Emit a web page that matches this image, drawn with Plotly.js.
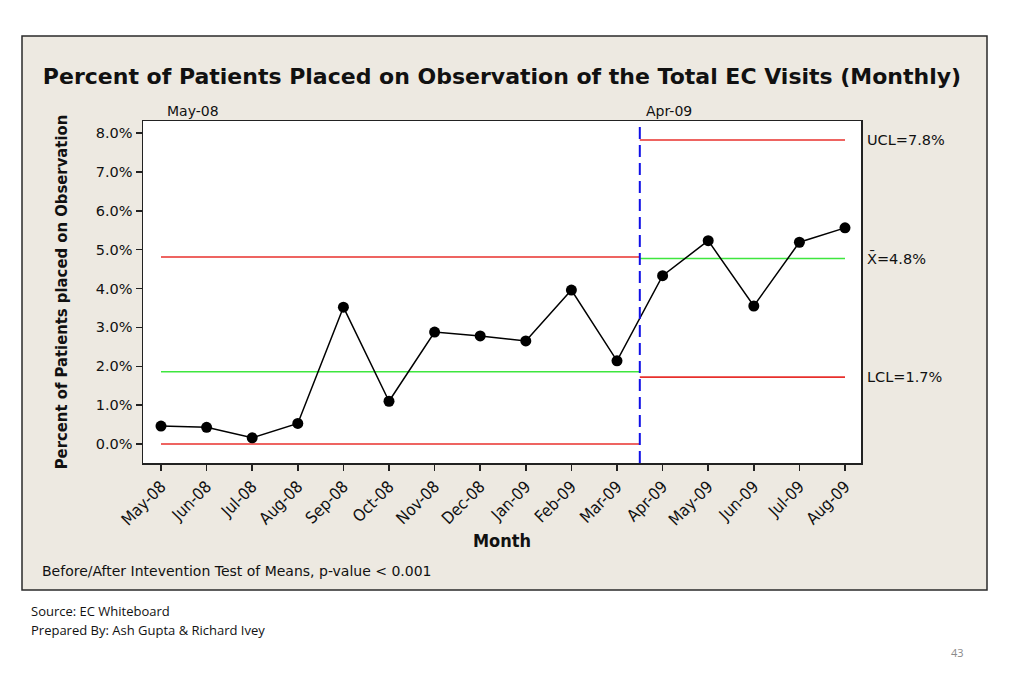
<!DOCTYPE html>
<html>
<head>
<meta charset="utf-8">
<script src="https://cdn.plot.ly/plotly-3.0.1.min.js"></script>
<style>html,body{margin:0;padding:0;background:#fff;}#chart{width:1024px;height:683px;}</style>
</head>
<body>
<div id="chart"></div>
<script>
// ---- data ----
const months = ["May-08","Jun-08","Jul-08","Aug-08","Sep-08","Oct-08","Nov-08","Dec-08","Jan-09","Feb-09","Mar-09","Apr-09","May-09","Jun-09","Jul-09","Aug-09"];
const pctObs = [0.46,0.43,0.16,0.53,3.52,1.10,2.88,2.78,2.65,3.96,2.14,4.33,5.23,3.55,5.19,5.56];
const phaseStart = [0, 10.5];
const phaseEnd = [10.5, 15];
const phaseLabels = ["May-08","Apr-09"];
const ucl = [4.81, 7.82];
const centerLine = [1.86, 4.77];
const lcl = [0.0, 1.72];
const limitLabels = ["UCL=7.8%", "X\u0304=4.8%", "LCL=1.7%"];
const yTicks = [0,1,2,3,4,5,6,7,8];
const yTickText = ["0.0%","1.0%","2.0%","3.0%","4.0%","5.0%","6.0%","7.0%","8.0%"];

// ---- layout helpers (pixel -> paper) ----
const L = 143, R = 861, T = 121, B = 463;
const fx = px => (px - L) / (R - L);
const fy = py => (B - py) / (B - T);

const xIdx = months.map((m, i) => i);
const RED = '#e8302c', GREEN = '#3ee63e', BLUE = '#1010e6';
const VER = '"DejaVu Sans", Verdana, sans-serif';
const TAH = '"DejaVu Sans Condensed", "DejaVu Sans", Tahoma, sans-serif';

const traces = [];
for (let p = 0; p < phaseStart.length; p++) {
  [[ucl, RED], [centerLine, GREEN], [lcl, RED]].forEach(([arr, col]) => {
    traces.push({
      x: [phaseStart[p], phaseEnd[p]], y: [arr[p], arr[p]],
      mode: 'lines', line: {color: col, width: 1.6}, hoverinfo: 'skip', showlegend: false
    });
  });
}
traces.push({
  x: xIdx, y: pctObs, mode: 'lines+markers',
  line: {color: '#000', width: 1.5},
  marker: {color: '#000', size: 11},
  showlegend: false
});

const annotations = [];
phaseStart.forEach((s, i) => {
  annotations.push({
    x: s, xref: 'x', y: 1, yref: 'paper', yanchor: 'bottom', xanchor: 'left',
    xshift: 4, yshift: 0, text: phaseLabels[i], showarrow: false,
    font: {family: VER, size: 14, color: '#111'}
  });
});
const last = phaseStart.length - 1;
[ucl[last], centerLine[last], lcl[last]].forEach((v, i) => {
  annotations.push({
    x: 1, xref: 'paper', xshift: 4, y: v, yref: 'y', xanchor: 'left', yanchor: 'middle',
    text: limitLabels[i], showarrow: false, font: {family: VER, size: 14.5, color: '#111'}
  });
});
annotations.push({
  x: fx(40), xref: 'paper', y: fy(571), yref: 'paper', xanchor: 'left', yanchor: 'middle',
  text: 'Before/After Intevention Test of Means, p-value &lt; 0.001', showarrow: false,
  font: {family: VER, size: 14, color: '#111'}
});
annotations.push({
  x: fx(29), xref: 'paper', y: fy(611), yref: 'paper', xanchor: 'left', yanchor: 'middle',
  text: 'Source: EC Whiteboard', showarrow: false,
  font: {family: '"Liberation Sans Narrow", "Open Sans", sans-serif', size: 13, color: '#111'}
});
annotations.push({
  x: fx(29), xref: 'paper', y: fy(630), yref: 'paper', xanchor: 'left', yanchor: 'middle',
  text: 'Prepared By: Ash Gupta &amp; Richard Ivey', showarrow: false,
  font: {family: '"Liberation Sans Narrow", "Open Sans", sans-serif', size: 13, color: '#111'}
});
annotations.push({
  x: fx(957), xref: 'paper', y: fy(652), yref: 'paper', xanchor: 'center', yanchor: 'middle',
  text: '43', showarrow: false,
  font: {family: '"Liberation Sans Narrow", "Open Sans", sans-serif', size: 11, color: '#8a8a8a'}
});

const layout = {
  width: 1024, height: 683,
  margin: {l: L, r: 1024 - R, t: T, b: 683 - B, pad: 0},
  paper_bgcolor: '#ffffff', plot_bgcolor: '#ffffff',
  title: {
    text: '<b>Percent of Patients Placed on Observation of the Total EC Visits (Monthly)</b>',
    x: 502 / 1024, xref: 'container', xanchor: 'center',
    y: 1 - 76 / 683, yref: 'container', yanchor: 'middle',
    font: {family: VER, size: 22, color: '#111'}
  },
  xaxis: {
    range: [-(161 - L) / 45.6, 15 + (R - 845) / 45.6],
    tickmode: 'array', tickvals: xIdx, ticktext: months, tickangle: -45,
    ticks: 'outside', ticklen: 6, tickwidth: 1.5, tickcolor: '#222',
    showline: true, linecolor: '#222', linewidth: 1.5, mirror: true,
    showgrid: false, zeroline: false,
    tickfont: {family: TAH, size: 16.5, color: '#111'},
    title: {text: '<b>Month</b>', standoff: 6, font: {family: TAH, size: 18, color: '#111'}}
  },
  yaxis: {
    range: [-(B - 444) / 38.875, (444 - T) / 38.875],
    tickmode: 'array', tickvals: yTicks, ticktext: yTickText,
    ticks: 'outside', ticklen: 6, tickwidth: 1.5, tickcolor: '#222',
    showline: true, linecolor: '#222', linewidth: 1.5, mirror: true,
    showgrid: false, zeroline: false,
    tickfont: {family: VER, size: 14.5, color: '#111'},
    title: {text: '<b>Percent of Patients placed on Observation</b>', standoff: 24,
            font: {family: TAH, size: 16.5, color: '#111'}}
  },
  shapes: [
    {type: 'rect', xref: 'paper', yref: 'paper', x0: fx(22), x1: fx(987), y0: fy(590), y1: fy(36),
     fillcolor: '#ede9e1', line: {color: '#2a2a2a', width: 1.5}, layer: 'below'},
    {type: 'rect', xref: 'paper', yref: 'paper', x0: 0, x1: 1, y0: 0, y1: 1,
     fillcolor: '#ffffff', line: {width: 0}, layer: 'below'},
    {type: 'line', xref: 'x', yref: 'paper', x0: phaseStart[1], x1: phaseStart[1], y0: 0, y1: 1,
     line: {color: BLUE, width: 2, dash: '12px,6px'}}
  ],
  annotations: annotations,
  showlegend: false
};

Plotly.newPlot('chart', traces, layout, {displayModeBar: false, staticPlot: true});
</script>
</body>
</html>
